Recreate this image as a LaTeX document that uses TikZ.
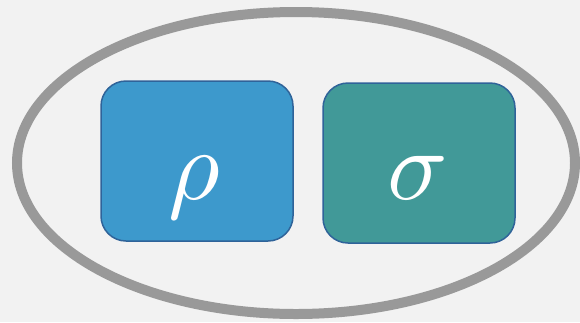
\documentclass[tikz,border=0pt]{standalone}
\usepackage{graphicx}
\usepackage{tikz}
\definecolor{bgcol}{HTML}{F2F2F2}
\definecolor{ringcol}{HTML}{999999}
\definecolor{rhofill}{HTML}{3D99CC}
\definecolor{sigmafill}{HTML}{419998}
\definecolor{edgecol}{HTML}{2F6399}
\newcommand{\bigsym}[1]{\scalebox{10}{$#1$}}
\tikzset{
  statebox/.style={draw=edgecol, line width=1.5pt, rounded corners=25pt},
  symbol/.style={text=white, anchor=base, inner sep=0pt}
}
\begin{document}
\begin{tikzpicture}[x=1pt, y=-1pt]
  % canvas
  \fill[bgcol] (0,0) rectangle (580,322);
  \useasboundingbox (0,0) rectangle (580,322);
  % enclosing ring
  \draw[ringcol, line width=10pt] (296,163) ellipse [x radius=279, y radius=151];
  % the two states
  \draw[statebox, fill=rhofill] (101,81) rectangle (293,241);
  \draw[statebox, fill=sigmafill] (323,83) rectangle (515,243);
  \node[symbol] (rho) at (194,199) {\bigsym{\rho}};
  \node[symbol] (sigma) at (418,199) {\bigsym{\sigma}};
\end{tikzpicture}
\end{document}
